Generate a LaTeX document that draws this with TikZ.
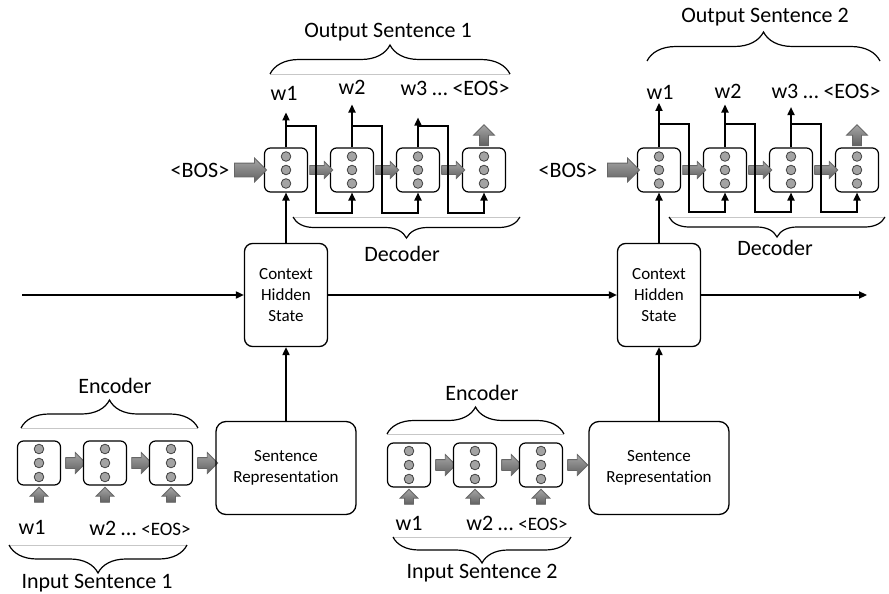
\documentclass[tikz,border=0pt]{standalone}
\usepackage{fontspec}
\setmainfont{Carlito}[Ligatures=NoCommon]
\usepackage{tikz}
\usetikzlibrary{arrows.meta, shapes.arrows, decorations.pathreplacing}

\tikzset{
	cell/.style={draw, fill=white, rounded corners=3pt, line width=0.6pt, minimum width=21.5pt, minimum height=22pt, inner sep=0pt},
	unit/.style={circle, draw=black!75, fill=black!36, line width=0.4pt, minimum size=4.8pt, inner sep=0pt},
	hidbox/.style={draw, rounded corners=4pt, line width=0.65pt, align=center, minimum width=41.5pt, minimum height=51.5pt, font=\fontsize{8.5}{10.5}\selectfont},
	repbox/.style={draw, rounded corners=5pt, line width=0.65pt, align=center, minimum width=70pt, minimum height=46.5pt, font=\fontsize{8.5}{10.5}\selectfont},
	flow/.style={-{Triangle[length=4pt, width=3.6pt]}, line width=0.7pt},
	garrow/.style={single arrow, draw=black!60, top color=black!35, bottom color=black!62, line width=0.4pt, inner xsep=0pt},
	bosarrow/.style={garrow, minimum height=16pt, inner ysep=3.25pt, single arrow head extend=2.5pt},
	linkarrow/.style={garrow, minimum height=11.5pt, inner ysep=2pt, single arrow head extend=2pt},
	encarrow/.style={garrow, minimum height=10pt, inner ysep=2.5pt, single arrow head extend=2.5pt},
	inarrow/.style={garrow, minimum height=7.5pt, inner sep=2pt, single arrow head extend=2.25pt, shape border rotate=90},
	endarrow/.style={garrow, minimum height=10.5pt, inner sep=2pt, single arrow head extend=3pt, shape border rotate=90},
	word/.style={inner sep=1pt},
	wbrace/.style={decorate, decoration={brace, amplitude=#1}, line width=0.6pt},
	mbrace/.style={decorate, decoration={brace, amplitude=#1, mirror}, line width=0.6pt},
	guide/.style={black!22, line width=0.5pt},
}

\begin{document}
\begin{tikzpicture}[x=0.5pt, y=-0.5pt, font=\fontsize{11}{13}\selectfont]
	\useasboundingbox (0,0) rectangle (889,594);
	\def\cellGAP{66}
	\def\decY{170}

	\begin{scope}
		\foreach \side/\xo in {1/286, 2/659}
		{
			\foreach \i in {1,...,4}
			{
				\node[cell] (dec\side-\i) at ({\xo+(\i-1)*\cellGAP},\decY) {};
				\foreach \k in {1,2,3}
				{
					\node[unit] (dec\side-\i-u\k) at ({\xo+(\i-1)*\cellGAP},{\decY+(\k-2)*13.5}) {};
				}
			}
			\foreach \i in {1,2,3}
			{
				\node[linkarrow] (dec\side-l\i) at ({\xo+(\i-1)*\cellGAP+33},\decY) {};
			}
			\node[bosarrow] (bos\side-a) at ({\xo-39},\decY) {};
			\node[endarrow] (dec\side-end) at ({\xo+3*\cellGAP},137.5) {};
		}
	\end{scope}

	\begin{scope}
		\foreach \side/\xo/\yo in {1/39/463, 2/409/465}
		{
			\foreach \i in {1,2,3}
			{
				\node[cell] (enc\side-\i) at ({\xo+(\i-1)*\cellGAP},\yo) {};
				\foreach \k in {1,2,3}
				{
					\node[unit] (enc\side-\i-u\k) at ({\xo+(\i-1)*\cellGAP},{\yo+(\k-2)*14}) {};
				}
				\node[inarrow] (enc\side-in\i) at ({\xo+(\i-1)*\cellGAP},{\yo+34}) {};
				\node[encarrow] (enc\side-l\i) at ({\xo+(\i-1)*\cellGAP+34},\yo) {};
			}
		}
	\end{scope}

	\node[hidbox] (ctx1) at (286,295) {Context\\Hidden\\State};
	\node[hidbox] (ctx2) at (659,295) {Context\\Hidden\\State};
	\node[repbox] (rep1) at (286,468) {Sentence\\Representation};
	\node[repbox] (rep2) at (659,468) {Sentence\\Representation};

	\node[word] (bos1) at (200,170) {<BOS>};
	\node[word] (bos2) at (568,170) {<BOS>};

	\node[word] (out1-1) at (284,93) {w1};
	\node[word] (out1-2) at (352,87) {w2};
	\node[word] (out1-3) at (455,88) {w3 … <EOS>};
	\node[word] (out2-1) at (660,92.5) {w1};
	\node[word] (out2-2) at (728,91) {w2};
	\node[word] (out2-3) at (826,91.5) {w3 … <EOS>};

	\node[word] (in1-1) at (32,527) {w1};
	\node[word] (in1-2) at (140,528) {w2 … {\fontsize{9.5}{11}\selectfont <EOS>}};
	\node[word] (in2-1) at (409,523) {w1};
	\node[word] (in2-2) at (517,523) {w2 … {\fontsize{9.5}{11}\selectfont <EOS>}};

	\begin{scope}[flow]
		\foreach \side/\i/\sh in {1/1/5pt, 1/2/4pt, 1/3/10pt, 2/1/0.5pt, 2/2/2pt, 2/3/3pt}
		{
			\draw[shorten >=\sh] (dec\side-\i.north) -- (dec\side-\i.north |- out\side-\i.south);
		}
		\foreach \side/\xo/\yt/\yb in {1/286/126/213, 2/659/124/212}
		{
			\foreach \i [evaluate=\i as \j using int(\i+1)] in {1,2,3}
			{
				\draw (dec\side-\i |- 0,\yt) -| ({\xo+(\i-1)*\cellGAP+30},\yb) -| (dec\side-\j.south);
			}
		}
		\coordinate (hin) at (22,295);
		\coordinate (hout) at (867,295);
		\draw (hin) -- (ctx1.west);
		\draw (ctx1.east) -- (ctx2.west);
		\draw (ctx2.east) -- (hout);
		\draw (ctx1.north) -- (dec1-1.south);
		\draw (ctx2.north) -- (dec2-1.south);
		\draw (rep1.north) -- (ctx1.south);
		\draw (rep2.north) -- (ctx2.south);
	\end{scope}

	\begin{scope}
		\draw[guide] (270,74) -- (510,74);
		\draw[wbrace=14.5pt] (270,74) -- (510,74);
		\node (outlab1) at (388,32) {Output Sentence 1};
		\draw[wbrace=14.5pt] (647,61) -- (880,61);
		\node (outlab2) at (765,17) {Output Sentence 2};

		\draw[guide] (293,217) -- (520,217);
		\draw[mbrace=10.5pt] (293,217) -- (520,217);
		\node (declab1) at (402,254) {Decoder};
		\draw[guide] (669,217) -- (885,217);
		\draw[mbrace=10pt] (669,217) -- (885,217);
		\node (declab2) at (775,248) {Decoder};

		\draw[guide] (21,428) -- (198,428);
		\draw[wbrace=14pt] (21,428) -- (198,428);
		\node (enclab1) at (115,386) {Encoder};
		\draw[guide] (387,434) -- (564,434);
		\draw[wbrace=13.5pt] (387,434) -- (564,434);
		\node (enclab2) at (482,393) {Encoder};

		\draw[guide] (9,545) -- (187,545);
		\draw[mbrace=14pt] (9,545) -- (187,545);
		\node (inlab1) at (97,583) {Input Sentence 1};
		\draw[guide] (393,537) -- (571,537);
		\draw[mbrace=13pt] (393,537) -- (571,537);
		\node (inlab2) at (482,573) {Input Sentence 2};
	\end{scope}
\end{tikzpicture}
\end{document}
